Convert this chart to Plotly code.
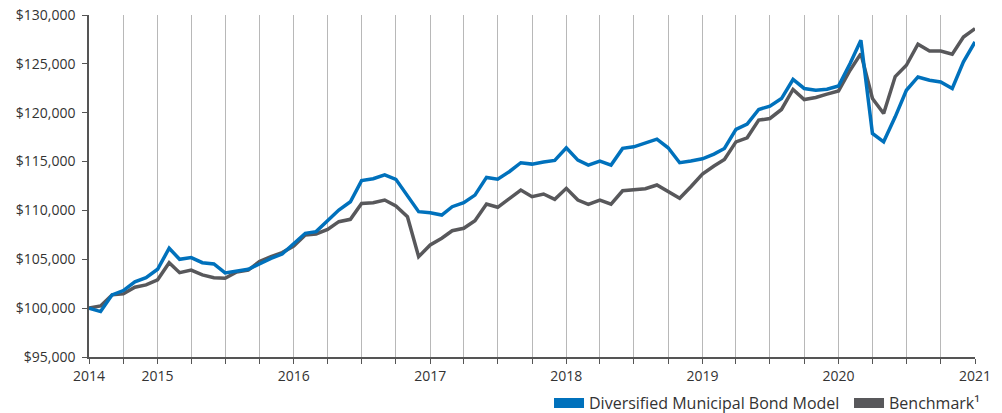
import pandas as pd
import plotly.graph_objects as go

# Monthly dates (79 points)
dates = pd.date_range("2014-07-01", periods=79, freq="MS")

model_values = [
    100000, 99650, 101360, 101800, 102700, 103120, 103980, 106130, 105000, 105170, 104650, 104520,
    103600, 103800, 103980, 104520, 105100, 105540, 106560, 107660, 107830, 108920, 110040, 110890,
    113050, 113240, 113650, 113180, 111570, 109870, 109770, 109530, 110380, 110790, 111570, 113380,
    113200, 113960, 114880, 114740, 114950, 115120, 116410, 115150, 114640, 115050, 114640, 116350,
    116510, 116860, 117300, 116410, 114880, 115050, 115280, 115760, 116340, 118290, 118830, 120330,
    120670, 121450, 123400, 122480, 122300, 122410, 122740, 125030, 127410, 117880, 117020, 119580,
    122300, 123660, 123330, 123150, 122480, 125200, 127240,
]

benchmark_values = [
    100000, 100230, 101360, 101460, 102140, 102380, 102900, 104650, 103630, 103900, 103400, 103120,
    103060, 103700, 103900, 104760, 105270, 105680, 106360, 107490, 107590, 108060, 108850, 109090,
    110720, 110790, 111060, 110450, 109360, 105270, 106460, 107150, 107920, 108170, 108950, 110650,
    110320, 111200, 112080, 111400, 111680, 111140, 112260, 111060, 110620, 111060, 110650, 112010,
    112080, 112220, 112600, 111910, 111240, 112420, 113720, 114540, 115220, 117020, 117430, 119240,
    119410, 120330, 122380, 121350, 121560, 121900, 122230, 124350, 126050, 121450, 119920, 123700,
    124860, 127010, 126320, 126320, 125980, 127750, 128610,
]

tick_dates = ["2014-07-01", "2015-01-01", "2016-01-01", "2017-01-01", "2018-01-01",
              "2019-01-01", "2020-01-01", "2021-01-01"]
tick_labels = ["2014", "2015", "2016", "2017", "2018", "2019", "2020", "2021"]

model_name = "Diversified Municipal Bond Model"
bench_name = "Benchmark¹"

BLUE = "#0071BC"
GRAY = "#58585B"
GRID = "#B8B8B8"

fig = go.Figure()
fig.add_trace(go.Scatter(x=dates, y=benchmark_values, mode="lines",
                         line=dict(color=GRAY, width=3.5), showlegend=False))
fig.add_trace(go.Scatter(x=dates, y=model_values, mode="lines",
                         line=dict(color=BLUE, width=3.5), showlegend=False))
# legend swatches
fig.add_trace(go.Scatter(x=[None], y=[None], mode="lines", name=model_name,
                         line=dict(color=BLUE, width=10), legendwidth=255))
fig.add_trace(go.Scatter(x=[None], y=[None], mode="lines", name=bench_name,
                         line=dict(color=GRAY, width=10)))

fig.update_layout(
    width=1002, height=413,
    margin=dict(l=89, r=27, t=15, b=56, autoexpand=False),
    paper_bgcolor="white", plot_bgcolor="white",
    font=dict(family="Open Sans", size=14, color="#333333"),
    legend=dict(orientation="h", x=1.0113, xanchor="right", y=-0.135, yanchor="middle",
                font=dict(size=16, color="#333333"), bgcolor="rgba(0,0,0,0)"),
)

fig.update_xaxes(
    type="date",
    range=[tick_dates[0], tick_dates[-1]],
    tickmode="array", tickvals=tick_dates, ticktext=tick_labels,
    showgrid=True, gridcolor=GRID, gridwidth=1,
    ticks="outside", ticklen=5, tickcolor="#555555",
    showline=True, linecolor="#555555", linewidth=1.5,
    minor=dict(dtick="M3", tick0="2014-10-01", showgrid=True, gridcolor=GRID,
               gridwidth=1, ticks="outside", ticklen=5, tickcolor="#555555"),
    zeroline=False, automargin=False,
)

fig.update_yaxes(
    range=[95000, 130000], dtick=5000, tick0=95000,
    tickprefix="$", tickformat=",",
    showgrid=False, zeroline=False,
    ticks="outside", ticklen=5, tickcolor="#555555",
    showline=True, linecolor="#555555", linewidth=1.5,
    ticklabelstandoff=4, automargin=False,
)

fig.write_html("out.html", config={"displayModeBar": False},
               post_script="document.body.style.margin='0';")
